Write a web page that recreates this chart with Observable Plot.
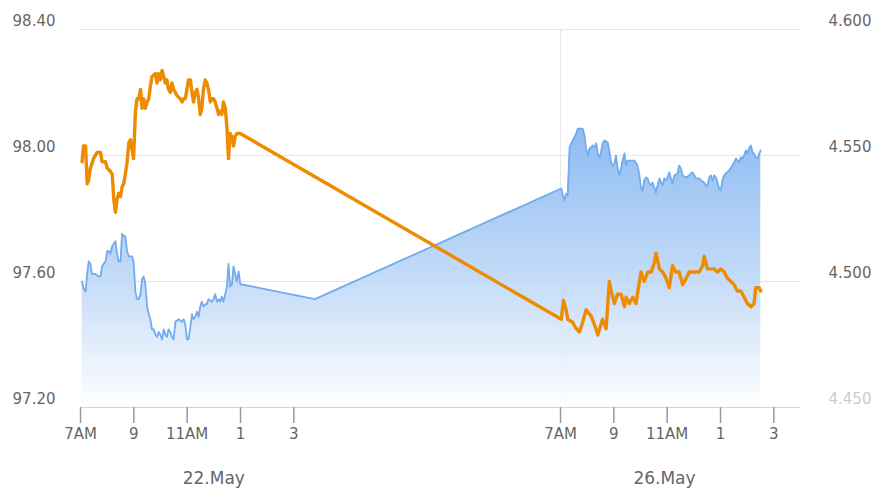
<!DOCTYPE html>
<html><head><meta charset="utf-8">
<script src="https://cdn.jsdelivr.net/npm/d3@7"></script>
<script src="https://cdn.jsdelivr.net/npm/@observablehq/plot@0.6"></script>
<style>html,body{margin:0;padding:0;overflow:hidden;background:#fff}</style>
</head><body><div id="chart"></div>
<script>
// ---- Data (hours of the trading day) ----
const orangeDay1Hours = [7.06,7.11,7.19,7.25,7.30,7.37,7.49,7.62,7.75,7.81,7.94,8.00,8.12,8.19,8.25,8.31,8.37,8.43,8.50,8.56,8.62,8.68,8.75,8.81,8.87,8.93,8.99,9.06,9.12,9.18,9.25,9.31,9.37,9.43,9.50,9.56,9.62,9.68,9.81,9.87,9.93,9.99,10.06,10.12,10.18,10.24,10.30,10.37,10.43,10.49,10.56,10.62,10.74,10.81,10.87,10.93,10.99,11.05,11.12,11.18,11.24,11.30,11.37,11.43,11.49,11.55,11.61,11.68,11.74,11.80,11.87,11.93,11.99,12.05,12.12,12.18,12.24,12.30,12.36,12.43,12.49,12.55,12.61,12.68,12.74,12.80,12.86,12.99];
const orangeDay1Values = [97.98,98.03,98.03,97.91,97.92,97.96,97.99,98.01,98.01,97.98,97.98,97.96,97.95,97.94,97.86,97.82,97.86,97.88,97.87,97.90,97.91,97.94,97.98,98.04,98.05,98.02,97.99,98.14,98.18,98.18,98.21,98.15,98.18,98.15,98.17,98.18,98.22,98.25,98.26,98.23,98.26,98.24,98.27,98.25,98.23,98.24,98.21,98.20,98.23,98.21,98.20,98.19,98.18,98.17,98.18,98.18,98.21,98.24,98.24,98.20,98.17,98.20,98.21,98.18,98.13,98.15,98.21,98.24,98.23,98.21,98.17,98.18,98.18,98.17,98.15,98.13,98.14,98.13,98.17,98.15,98.09,97.99,98.07,98.06,98.03,98.06,98.07,98.07];
const orangeDay2Hours = [7.03,7.11,7.21,7.27,7.46,7.59,7.71,7.83,7.96,8.15,8.33,8.40,8.58,8.71,8.83,8.90,9.02,9.14,9.27,9.40,9.46,9.58,9.71,9.83,9.96,10.02,10.14,10.27,10.40,10.52,10.58,10.71,10.83,10.96,11.08,11.20,11.33,11.45,11.58,11.71,11.83,11.95,12.08,12.20,12.33,12.39,12.51,12.64,12.76,12.89,13.01,13.14,13.26,13.39,13.51,13.63,13.76,13.89,14.01,14.14,14.26,14.32,14.45,14.51];
const orangeDay2Values = [97.48,97.54,97.51,97.48,97.47,97.45,97.44,97.47,97.51,97.49,97.45,97.43,97.48,97.45,97.60,97.57,97.53,97.56,97.56,97.52,97.55,97.53,97.55,97.53,97.60,97.63,97.60,97.63,97.63,97.66,97.69,97.64,97.63,97.61,97.58,97.65,97.63,97.63,97.59,97.61,97.63,97.63,97.63,97.63,97.65,97.68,97.64,97.64,97.64,97.63,97.64,97.63,97.61,97.60,97.59,97.57,97.57,97.55,97.53,97.52,97.53,97.58,97.58,97.57];

const blueDay1Hours = [7.06,7.12,7.19,7.25,7.31,7.37,7.43,7.56,7.68,7.75,7.81,7.94,8.00,8.06,8.12,8.19,8.25,8.31,8.37,8.43,8.50,8.56,8.62,8.68,8.75,8.81,8.87,8.93,8.99,9.06,9.12,9.18,9.25,9.31,9.37,9.43,9.50,9.56,9.62,9.68,9.74,9.81,9.87,9.93,9.99,10.06,10.12,10.18,10.24,10.30,10.37,10.43,10.49,10.56,10.68,10.81,10.87,10.93,10.99,11.05,11.12,11.18,11.24,11.30,11.37,11.43,11.49,11.55,11.61,11.68,11.74,11.80,11.93,11.99,12.05,12.12,12.18,12.24,12.30,12.36,12.43,12.49,12.55,12.61,12.68,12.74,12.80,12.86,12.93,12.99,15.79];
const blueDay1Values = [4.500,4.497,4.496,4.503,4.508,4.507,4.503,4.503,4.502,4.502,4.506,4.508,4.512,4.512,4.511,4.514,4.515,4.516,4.511,4.508,4.508,4.519,4.518,4.518,4.512,4.510,4.510,4.510,4.508,4.496,4.493,4.493,4.495,4.501,4.502,4.499,4.490,4.487,4.485,4.481,4.481,4.479,4.478,4.480,4.479,4.477,4.481,4.479,4.478,4.481,4.480,4.478,4.477,4.484,4.485,4.484,4.485,4.483,4.477,4.477,4.482,4.487,4.485,4.486,4.488,4.486,4.490,4.492,4.490,4.491,4.491,4.493,4.492,4.493,4.495,4.492,4.493,4.492,4.494,4.492,4.495,4.498,4.507,4.498,4.499,4.506,4.503,4.500,4.504,4.499,4.493];
const blueDay2Hours = [7.03,7.09,7.15,7.21,7.27,7.34,7.40,7.46,7.59,7.65,7.83,7.90,7.96,8.02,8.09,8.15,8.21,8.27,8.34,8.40,8.46,8.52,8.58,8.65,8.77,8.83,8.90,8.96,9.02,9.08,9.14,9.21,9.27,9.33,9.40,9.46,9.52,9.65,9.77,9.89,9.96,10.02,10.08,10.14,10.21,10.27,10.33,10.40,10.45,10.52,10.58,10.64,10.71,10.77,10.83,10.89,10.96,11.02,11.08,11.14,11.20,11.27,11.39,11.45,11.52,11.58,11.71,11.83,11.89,11.95,12.02,12.08,12.20,12.27,12.39,12.45,12.51,12.58,12.64,12.70,12.76,12.83,12.89,12.95,13.01,13.07,13.14,13.20,13.32,13.45,13.51,13.58,13.64,13.70,13.76,13.82,13.89,13.95,14.01,14.07,14.14,14.20,14.26,14.32,14.39,14.45,14.51];
const blueDay2Values = [4.5369,4.5341,4.5321,4.5349,4.5341,4.5532,4.5548,4.5560,4.5587,4.5607,4.5607,4.5579,4.5528,4.5500,4.5528,4.5532,4.5540,4.5532,4.5548,4.5508,4.5492,4.5512,4.5548,4.5560,4.5552,4.5520,4.5472,4.5460,4.5468,4.5500,4.5452,4.5421,4.5448,4.5480,4.5508,4.5460,4.5480,4.5480,4.5480,4.5460,4.5421,4.5369,4.5361,4.5401,4.5413,4.5409,4.5389,4.5381,4.5393,4.5373,4.5353,4.5381,4.5409,4.5393,4.5381,4.5409,4.5401,4.5413,4.5433,4.5409,4.5389,4.5421,4.5429,4.5460,4.5448,4.5421,4.5413,4.5421,4.5429,4.5433,4.5421,4.5409,4.5409,4.5401,4.5393,4.5381,4.5381,4.5413,4.5421,4.5401,4.5421,4.5413,4.5393,4.5369,4.5361,4.5401,4.5421,4.5429,4.5440,4.5460,4.5472,4.5488,4.5480,4.5472,4.5492,4.5488,4.5500,4.5520,4.5508,4.5528,4.5540,4.5512,4.5508,4.5492,4.5488,4.5508,4.5520];

const days = ["22.May", "26.May"];
const leftTicks = [97.20, 97.60, 98.00, 98.40];
const rightTicks = [4.450, 4.500, 4.550, 4.600];
const hourTicks = [7, 9, 11, 13, 15];
const hourLabels = ["7AM", "9", "11AM", "1", "3"];

// ---- Build tables ----
const gap = 18; // compressed axis: second session starts 18 axis-hours after the first
const leftMin = 97.2, leftMax = 98.4, rightMin = 4.45, rightMax = 4.6;
const toLeft = r => leftMin + (r - rightMin) * (leftMax - leftMin) / (rightMax - rightMin);

const orange = [
  ...orangeDay1Hours.map((h, i) => ({x: h, y: orangeDay1Values[i]})),
  ...orangeDay2Hours.map((h, i) => ({x: h + gap, y: orangeDay2Values[i]}))
];
const blue = [
  ...blueDay1Hours.map((h, i) => ({x: h, y: toLeft(blueDay1Values[i])})),
  ...blueDay2Hours.map((h, i) => ({x: h + gap, y: toLeft(blueDay2Values[i])}))
];
const xTicks = [...hourTicks, ...hourTicks.map(h => h + gap)];
const xLabels = [...hourLabels, ...hourLabels];
const dayLabels = [{x: 12, text: days[0]}, {x: 10.9 + gap, text: days[1]}];

const gradient = () => {
  const defs = d3.create("svg:defs");
  const g = defs.append("linearGradient").attr("id", "blueGrad")
    .attr("x1", 0).attr("y1", 0).attr("x2", 0).attr("y2", 1);
  g.append("stop").attr("offset", "0%").attr("stop-color", "#84b6f1");
  g.append("stop").attr("offset", "58%").attr("stop-color", "#c4dbf8");
  g.append("stop").attr("offset", "100%").attr("stop-color", "#ffffff");
  return defs.node();
};

const chart = Plot.plot({
  width: 876, height: 489,
  marginLeft: 80, marginRight: 76, marginTop: 29, marginBottom: 82,
  style: {fontFamily: "'DejaVu Sans', sans-serif", fontSize: "15px", color: "#666", background: "#fff"},
  x: {domain: [7, 34], axis: null},
  y: {domain: [leftMin, leftMax], axis: null},
  marks: [
    gradient,
    Plot.gridY(leftTicks, {stroke: "#e6e6e6", strokeOpacity: 1, strokeWidth: 1}),
    Plot.ruleX([7 + gap], {stroke: "#e6e6e6", strokeWidth: 1}),
    Plot.areaY(blue, {x: "x", y1: leftMin, y2: "y", fill: "url(#blueGrad)", fillOpacity: 0.92}),
    Plot.lineY(blue, {x: "x", y: "y", stroke: "#72abee", strokeWidth: 1.8}),
    Plot.lineY(orange, {x: "x", y: "y", stroke: "#ee8c00", strokeWidth: 3.4, strokeLinejoin: "round"}),
    Plot.ruleY([leftMin], {stroke: "#ccd6eb", strokeWidth: 1}),
    Plot.axisX(xTicks, {label: null, tickFormat: (d, i) => xLabels[i], tickSize: 16, tickPadding: 5,
      stroke: "#999", strokeWidth: 1.5, fill: "#666", fontSize: 15}),
    Plot.axisY(leftTicks, {label: null, anchor: "left", tickSize: 0, tickPadding: 25, dy: -8,
      tickFormat: d => d.toFixed(2), fill: "#666", fontSize: 15}),
    Plot.axisY(leftTicks.slice(1), {label: null, anchor: "right", tickSize: 0, tickPadding: 28, dy: -8,
      tickFormat: (d, i) => rightTicks[i + 1].toFixed(3), fill: "#666", fontSize: 15}),
    Plot.axisY(leftTicks.slice(0, 1), {label: null, anchor: "right", tickSize: 0, tickPadding: 28, dy: -8,
      tickFormat: () => rightTicks[0].toFixed(3), fill: "#cccccc", fontSize: 15}),
    Plot.text(dayLabels, {x: "x", text: "text", frameAnchor: "bottom", dy: 76,
      fontSize: 17, fill: "#666"})
  ]
});
document.getElementById("chart").appendChild(chart);
</script>
</body></html>
